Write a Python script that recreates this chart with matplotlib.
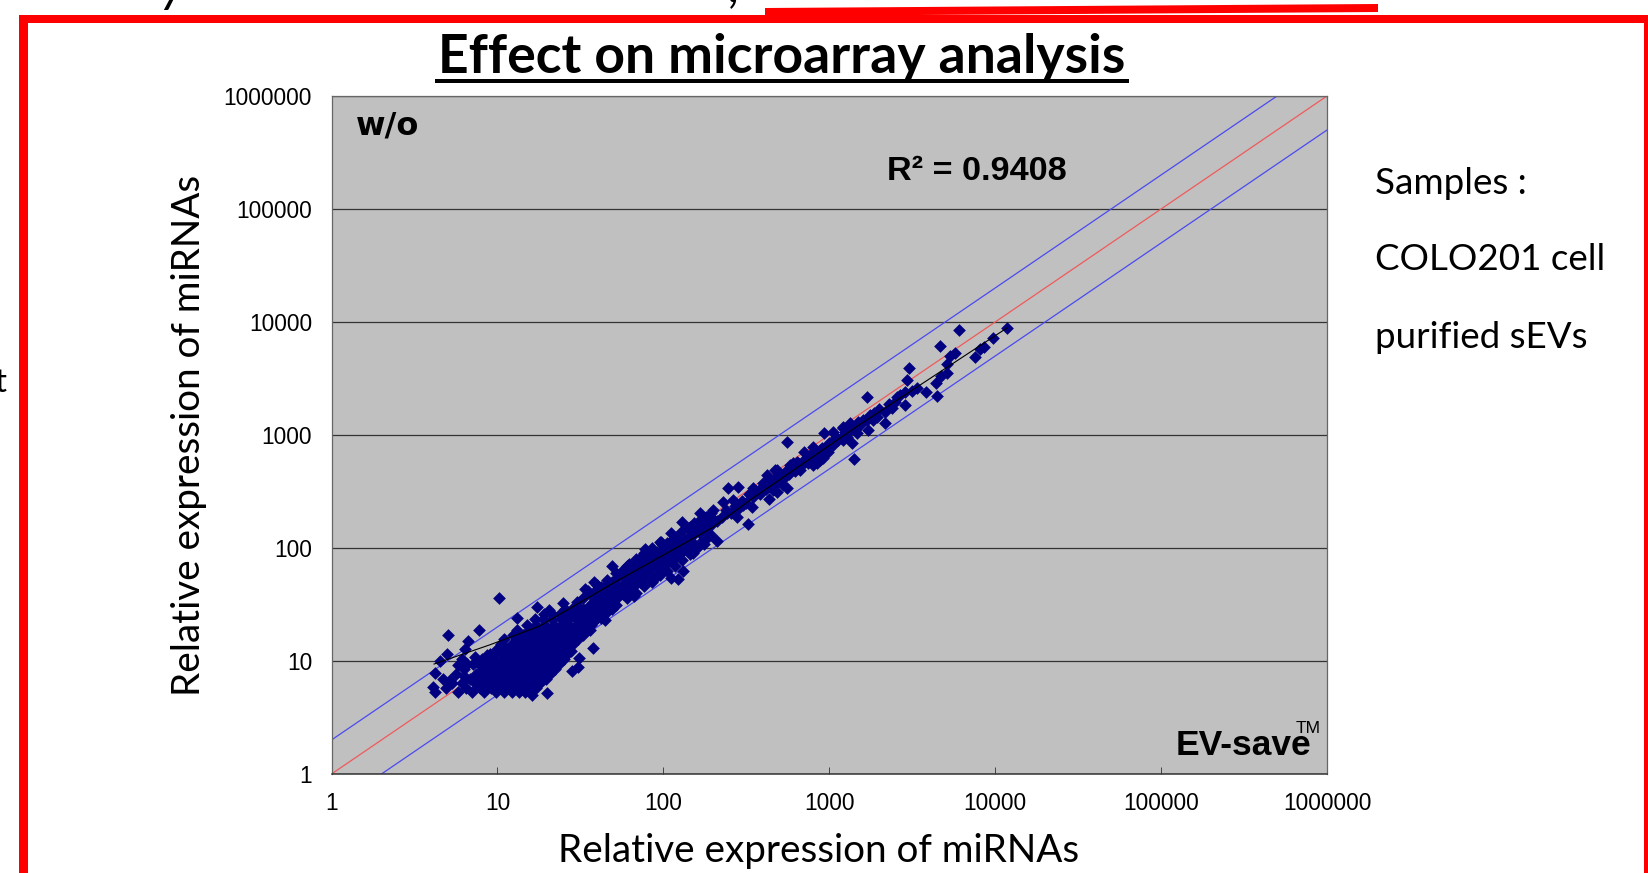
import matplotlib
matplotlib.use('Agg')
import matplotlib.pyplot as plt
from matplotlib.patches import Polygon, Rectangle

decades = [1, 10, 100, 1000, 10000, 100000, 1000000]
decade_labels = ['1', '10', '100', '1000', '10000', '100000', '1000000']
guide_x = [1, 1000000]
guide_mid_y = [1, 1000000]
guide_up_x = [1, 500000]
guide_up_y = [2, 1000000]
guide_low_x = [2, 1000000]
guide_low_y = [1, 500000]

# dense blob at the low end, one y per row
row_y = [5.3, 5.8, 6.4, 7.0, 7.7, 8.5, 9.4, 10.4, 11.5, 12.7, 14, 15.5, 17, 19, 21, 23.5, 26, 29]
row_x = [
    [5.8, 7.0, 8.3, 9.8, 11, 12.2, 13.5, 14.7],
    [4.9, 6.5, 7.8, 9.2, 10.4, 11.6, 13, 14.4, 15.8, 17.2],
    [5.3, 6.1, 7.3, 8.6, 9.9, 11.1, 12.4, 13.8, 15.2, 16.7, 18.1],
    [4.7, 6.8, 8, 9.4, 10.7, 12, 13.3, 14.7, 16.2, 17.8, 19.6],
    [5.6, 7.4, 8.8, 10.1, 11.5, 12.9, 14.2, 15.7, 17.3, 19, 20.8],
    [6.3, 8.2, 9.6, 10.9, 12.2, 13.6, 15.1, 16.6, 18.2, 20, 22.2],
    [7.1, 8.9, 10.2, 11.6, 13, 14.5, 16, 17.6, 19.4, 21.4, 23.6],
    [6.1, 8.1, 9.7, 11.1, 12.5, 14, 15.5, 17.1, 18.8, 20.7, 22.8, 25.2],
    [9.0, 10.6, 12, 13.5, 15, 16.6, 18.3, 20.2, 22.3, 24.6, 26.4],
    [9.9, 11.4, 13, 14.5, 16.1, 17.8, 19.7, 21.8, 24, 26.5],
    [10.5, 12.3, 13.9, 15.6, 17.3, 19.2, 21.2, 23.4, 25.8, 28.4],
    [11, 13.2, 15, 16.8, 18.7, 20.7, 22.9, 25.3, 27.9, 30.5],
    [12.5, 14.2, 16.2, 18.2, 20.3, 22.5, 24.9, 27.5, 30.2, 33],
    [13.2, 15.4, 17.6, 19.8, 22.1, 24.6, 27.2, 30, 33, 36],
    [15, 17, 19.4, 21.8, 24.4, 27, 30, 33, 36.5],
    [16.8, 18.8, 21.2, 24, 26.8, 29.8, 33, 36.4, 39.5],
    [19, 21.2, 23.8, 26.5, 29.5, 32.6, 36, 40],
    [25.5, 28.2, 31.3, 34.6, 38.2, 42],
]

# points hanging off the blob
stray_x = [10.2, 5.06, 7.74, 6.68, 5.0, 6.38, 4.5, 4.2, 4.1, 4.2, 13.1, 17.3, 20.5, 25, 27.8, 37.7,
           31, 30.8, 28, 18.8, 44.5, 16.2, 19.8, 49.3, 38.4, 33.7, 66.6, 77.6, 88, 97, 97, 111, 122, 132, 150, 129, 210,
           8.9, 7.7, 6.3, 5.2, 9.1, 7.9, 6.6, 5.8, 7.3, 8.6]
stray_y = [35.9, 17.0, 18.9, 15.0, 11.5, 12.7, 10.1, 7.8, 5.9, 5.3, 23.9, 30, 28.3, 32.4, 12.3, 13,
           10.6, 8.8, 8.2, 7.1, 23, 5.0, 5.25, 69.7, 50.3, 43.4, 37.6, 98, 52.8, 61.7, 112, 54.6, 53, 62.6, 90, 169, 116,
           6.1, 7.2, 7.4, 6.8, 7.6, 9.2, 9.4, 9.2, 10.8, 11.2]

# main band, x 30 to 250
band_x = [30, 30, 30, 33, 33, 33, 36, 36, 36, 39, 39, 39, 42, 42, 42, 42, 45, 45, 45, 49, 49, 49, 49,
          53, 53, 53, 57, 57, 57, 57, 62, 62, 62, 62, 67, 67, 67, 72, 72, 72, 72, 78, 78, 78, 84, 84, 84, 84,
          91, 91, 91, 98, 98, 98, 98, 105, 105, 105, 112, 112, 112, 112, 120, 120, 120, 130, 130, 130,
          140, 140, 140, 152, 152, 152, 166, 166, 166, 166, 180, 180, 180, 195, 195, 195]
band_y = [21, 26, 33, 23, 29, 36, 25, 31, 39, 27, 34, 42, 24, 30, 37, 45, 32, 39, 47, 34, 42, 50, 29,
          37, 45, 55, 39, 47, 57, 64, 42, 52, 62, 72, 46, 57, 68, 50, 61, 72, 82, 55, 67, 80, 58, 71, 85, 92,
          65, 78, 92, 68, 82, 96, 108, 74, 90, 110, 78, 96, 116, 135, 84, 104, 125, 92, 112, 140,
          100, 122, 150, 108, 132, 165, 110, 135, 165, 204, 120, 148, 190, 130, 160, 205]

# filler along the band so it reads as solid like the original
fill_x = [31, 34, 37, 40, 43, 47, 51, 55, 59, 64, 70, 75, 81, 87, 94, 101, 108, 116, 125, 135, 145, 158, 172, 187, 200,
          35, 40, 46, 52, 60, 68, 76, 85, 95,
          35, 40, 46, 52, 60, 68, 76, 85, 95, 105, 118, 130, 145, 160, 175,
          210, 225, 240, 255, 270, 285, 300, 315, 330, 345, 360, 380, 395, 415, 430, 450, 470, 490, 510, 530, 550,
          575, 600, 625, 650, 680, 710, 740, 770, 800, 830, 860, 900, 950, 1000, 1050, 1100, 1170, 1250, 1320,
          1400, 1500, 1600, 1750, 1850, 2000, 2300, 2550]
fill_y = [24, 27, 29, 32, 35, 37, 40, 44, 49, 53, 58, 62, 67, 72, 80, 88, 95, 100, 110, 118, 128, 140, 155, 170, 180,
          42, 47, 52, 60, 70, 80, 90, 100, 112,
          21, 24, 27, 31, 36, 40, 46, 50, 58, 62, 70, 78, 88, 100, 108,
          175, 190, 215, 205, 235, 225, 262, 250, 300, 280, 320, 300, 350, 330, 385, 360, 420, 380, 440, 420, 480,
          450, 520, 480, 560, 530, 610, 570, 660, 640, 710, 680, 760, 780, 850, 880, 960, 950, 1060, 1100,
          1180, 1300, 1350, 1500, 1550, 1700, 1900, 2150]

# upper part where single points can be read
top_x = [145, 166, 200, 229, 263, 302, 241, 277, 191, 158, 341, 349, 401, 420, 482, 505, 555, 460, 581, 637,
         622, 802, 766, 840, 921, 881, 988, 1059, 1216, 1216, 1334, 1534, 1465, 1276, 559, 247, 281, 434, 323,
         1417, 705, 930, 1058, 1721, 1377, 11850, 9680, 6060, 4655, 5728, 5350, 8570, 8110, 7570, 5105, 3040,
         2960, 5150, 4700, 4400, 4467, 3820, 3373, 3140, 2866, 2673, 2866, 2494, 2382, 2172, 2153, 1935, 1844,
         1683, 1683, 1465, 1216, 1276, 1135, 881, 802, 608, 667, 471, 529, 482]
top_y = [154, 177, 217, 257, 266, 240, 203, 189, 177, 149, 232, 337, 373, 443, 490, 400, 337, 326, 543, 581,
         490, 789, 601, 562, 622, 736, 711, 817, 903, 1186, 1277, 1225, 1035, 1035, 873, 337, 349, 270, 163,
         617, 711, 1035, 1071, 1107, 844, 8910, 7265, 8490, 6133, 5284, 5012, 5975, 5770, 4870, 4227, 3945,
         3070, 3560, 3326, 2900, 2228, 2416, 2590, 2466, 2416, 2260, 1842, 1972, 1722, 1608, 1285, 1452, 1358,
         2153, 1358, 1186, 1148, 966, 903, 601, 543, 562, 490, 490, 361, 315]

trend_x = [4.15, 9, 18, 50, 200, 334, 1465, 11850]
trend_y = [9.4, 13.9, 20.4, 49, 153, 266, 1186, 8910]

chart_font = ['Liberation Sans', 'DejaVu Sans']
slide_font = ['Lato', 'DejaVu Sans']

W, H = 1648, 873
fig = plt.figure(figsize=(W / 100, H / 100), dpi=100, facecolor='white')

# slide bits around the chart, figure pixels with y going down
back = fig.add_axes([0, 0, 1, 1])
back.set_xlim(0, W)
back.set_ylim(H, 0)
back.axis('off')
back.add_patch(Rectangle((19, 15), W - 19, 8, color='#ff0000', lw=0))
back.add_patch(Rectangle((19, 15), 9, H - 15, color='#ff0000', lw=0))
back.add_patch(Rectangle((1644, 15), 4, H - 15, color='#ff0000', lw=0))
back.add_patch(Polygon([(765, 8), (1378, 4), (1378, 12), (765, 16)], color='#ff0000', lw=0))
back.add_patch(Rectangle((435, 79), 694, 4, color='black', lw=0))
back.text(782, 73, 'Effect on microarray analysis', family=slide_font, weight='bold',
          fontsize=38.5, ha='center', va='baseline')
back.text(1375, 183, 'Samples :', family=slide_font, fontsize=26.5, va='center')
back.text(1375, 259, 'COLO201 cell', family=slide_font, fontsize=26.5, va='center')
back.text(1375, 338, 'purified sEVs', family=slide_font, fontsize=26.5, va='center')
back.text(819, 851, 'Relative expression of miRNAs', family=slide_font, fontsize=27.8,
          ha='center', va='center')
back.text(189, 435, 'Relative expression of miRNAs', family=slide_font, fontsize=27.8,
          rotation=90, ha='center', va='center')
# cut off letters from the slide text above and beside the box
back.text(160, 1, 'y', family=slide_font, style='italic', fontsize=36, va='baseline')
back.text(729, 1, ',', family=slide_font, style='italic', fontsize=36, va='baseline')
back.text(6, 383, 't', family=slide_font, fontsize=24, ha='right', va='center')

ax = fig.add_axes([331.5 / W, 1 - 774 / H, (1327 - 331.5) / W, 678 / H])
ax.set_facecolor('#c0c0c0')
ax.set_xscale('log')
ax.set_yscale('log')
ax.set_xlim(1, 1000000)
ax.set_ylim(1, 1000000)
ax.set_xticks(decades)
ax.set_yticks(decades)
ax.set_xticklabels(decade_labels, family=chart_font, fontsize=16.4)
ax.set_yticklabels(decade_labels, family=chart_font, fontsize=16.4)
ax.minorticks_off()
ax.tick_params(axis='x', direction='in', length=5, width=0.7, color='#444444', pad=13)
ax.tick_params(axis='y', length=0, pad=14)
ax.grid(axis='y', color='#333333', lw=0.9)
ax.set_axisbelow(True)
for side in ['top', 'right', 'left']:
    ax.spines[side].set_color('#666666')
    ax.spines[side].set_linewidth(0.9)
ax.spines['bottom'].set_color('#333333')
ax.spines['bottom'].set_linewidth(1.1)

ax.plot(guide_x, guide_mid_y, color='#f05a5a', lw=0.9, zorder=2)
ax.plot(guide_up_x, guide_up_y, color='#4a4af0', lw=0.9, zorder=2)
ax.plot(guide_low_x, guide_low_y, color='#4a4af0', lw=0.9, zorder=2)

xs = []
ys = []
for y, row in zip(row_y, row_x):
    for x in row:
        xs.append(x)
        ys.append(y)
xs += stray_x + band_x + fill_x + top_x
ys += stray_y + band_y + fill_y + top_y
ax.scatter(xs, ys, marker='D', s=42, color='#000080', linewidths=0, zorder=3)
ax.plot(trend_x, trend_y, color='black', lw=0.8, zorder=4)

ax.text(356, 126, 'w/o', transform=back.transData, family=['DejaVu Sans'], weight='bold', fontsize=23, va='center')
ax.text(887, 172, 'R² = 0.9408', transform=back.transData, family=chart_font, weight='bold',
        fontsize=24.7, va='center')
ax.text(1176, 755, 'EV-save', transform=back.transData, family=chart_font, weight='bold',
        fontsize=25.5, va='baseline')
ax.text(1296, 733, 'TM', transform=back.transData, family=chart_font, fontsize=12.5, va='baseline')

fig.savefig('out.png', dpi=100)
